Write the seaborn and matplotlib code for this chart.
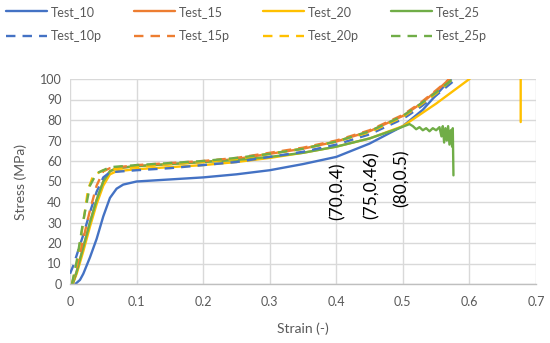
import matplotlib
matplotlib.use("Agg")
import matplotlib.pyplot as plt
import seaborn as sns
import pandas as pd

# ---------------- data ----------------
x_10 = [0.008, 0.015, 0.02, 0.03, 0.04, 0.05, 0.06, 0.07, 0.08, 0.1, 0.15, 0.2, 0.25, 0.3, 0.35, 0.4, 0.45, 0.5, 0.53, 0.555, 0.58]
y_10 = [0, 2, 5, 13, 22, 33, 42, 46.5, 48.5, 50, 51, 52, 53.5, 55.5, 58.5, 62, 68.5, 77, 85, 94, 103]

x_15 = [0.004, 0.01, 0.02, 0.03, 0.04, 0.05, 0.06, 0.07, 0.1, 0.15, 0.2, 0.25, 0.3, 0.35, 0.4, 0.45, 0.5, 0.525, 0.55, 0.57, 0.58]
y_15 = [0, 6, 18, 30, 41, 50, 55, 56.5, 57.5, 58.5, 59.5, 61, 63.5, 66, 69.5, 74.5, 82, 87.5, 94, 100, 104]

x_20 = [0.004, 0.01, 0.02, 0.03, 0.04, 0.05, 0.06, 0.07, 0.1, 0.15, 0.2, 0.25, 0.3, 0.35, 0.4, 0.45, 0.5, 0.55, 0.575, 0.6, 0.64, 0.677, 0.677]
y_20 = [0, 5, 16, 28, 39, 48, 53.5, 55, 56, 57, 58, 59.5, 61.5, 64, 67, 71, 77, 88, 94, 100, 115, 130, 79]

x_25 = [0.004, 0.01, 0.02, 0.03, 0.04, 0.05, 0.06, 0.07, 0.1, 0.15, 0.2, 0.25, 0.3, 0.35, 0.4, 0.45, 0.49, 0.51,
        0.515, 0.52, 0.525, 0.53, 0.535, 0.54, 0.545, 0.55, 0.555, 0.558, 0.56, 0.562, 0.564, 0.566, 0.568, 0.57,
        0.572, 0.574, 0.575, 0.576]
y_25 = [0, 6, 18, 30, 41, 50, 55, 56.5, 57.5, 58.5, 59.5, 60.5, 62, 64, 67, 71, 75.5, 78,
        77, 75.5, 76.5, 75, 76, 74.5, 76, 75, 76.5, 72, 77, 69, 76, 70, 77, 68,
        75, 67, 76, 53]

x_10p = [0.0, 0.005, 0.01, 0.02, 0.03, 0.04, 0.05, 0.06, 0.1, 0.15, 0.2, 0.25, 0.3, 0.35, 0.4, 0.45, 0.5, 0.525, 0.55, 0.58, 0.59]
y_10p = [5, 9, 14, 24, 35, 45, 52, 54.5, 55.5, 56.5, 58, 59.5, 62, 64.5, 68, 73, 80.5, 86, 92, 100, 103]

x_15p = [0.003, 0.01, 0.02, 0.03, 0.04, 0.05, 0.06, 0.1, 0.15, 0.2, 0.25, 0.3, 0.35, 0.4, 0.45, 0.5, 0.525, 0.55, 0.57, 0.58]
y_15p = [0, 8, 22, 36, 48, 55, 56.5, 58, 59, 60, 61.5, 64, 66.5, 70, 75, 82.5, 88, 94.5, 100, 104]

x_20p = [0.003, 0.01, 0.02, 0.027, 0.035, 0.05, 0.1, 0.15, 0.2, 0.25, 0.3, 0.35, 0.4, 0.45, 0.5, 0.525, 0.55, 0.575, 0.59]
y_20p = [0, 10, 30, 46, 53, 55.5, 57, 58.5, 59.5, 61, 63.5, 66, 69.5, 74, 81.5, 87, 93, 100, 104]

x_25p = [0.003, 0.01, 0.02, 0.03, 0.04, 0.06, 0.1, 0.15, 0.2, 0.25, 0.3, 0.35, 0.4, 0.45, 0.5, 0.525, 0.55, 0.575, 0.59]
y_25p = [0, 11, 31, 48, 54, 57, 58, 59, 60, 61.5, 63.5, 66, 69.5, 74.5, 82, 87.5, 93.5, 100, 104]

labels = ["Test_10", "Test_15", "Test_20", "Test_25", "Test_10p", "Test_15p", "Test_20p", "Test_25p"]
annot_text = ["(70,0.4)", "(75,0.46)", "(80,0.5)"]
annot_x = [0.402, 0.453, 0.498]
annot_y = [59.5, 64.5, 65.5]

x_ticks = [0, 0.1, 0.2, 0.3, 0.4, 0.5, 0.6, 0.7]
x_tick_labels = ["0", "0.1", "0.2", "0.3", "0.4", "0.5", "0.6", "0.7"]
y_ticks = [0, 10, 20, 30, 40, 50, 60, 70, 80, 90, 100]

# ---------------- style ----------------
sns.set_theme(style="white")
plt.rcParams["font.family"] = ["Lato", "DejaVu Sans"]

blue, orange, yellow, green = "#4472C4", "#ED7D31", "#FFC000", "#70AD47"
series = [
    (x_10, y_10, blue, False), (x_15, y_15, orange, False),
    (x_20, y_20, yellow, False), (x_25, y_25, green, False),
    (x_10p, y_10p, blue, True), (x_15p, y_15p, orange, True),
    (x_20p, y_20p, yellow, True), (x_25p, y_25p, green, True),
]

fig = plt.figure(figsize=(5.5, 3.43), dpi=100)
ax = fig.add_axes([70 / 550, 1 - 284 / 343, 466 / 550, 205 / 343])

handles = []
for (xs, ys, col, dashed), lab in zip(series, labels):
    df = pd.DataFrame({"strain": xs, "stress": ys})
    sns.lineplot(data=df, x="strain", y="stress", ax=ax, color=col, sort=False,
                 estimator=None, linewidth=1.7, label=lab, legend=False)
    ln = ax.lines[-1]
    if dashed:
        ln.set_dashes((4, 3))
    handles.append(ln)

ax.set_xlim(0, 0.7)
ax.set_ylim(0, 100)
ax.set_xticks(x_ticks)
ax.set_xticklabels(x_tick_labels)
ax.set_yticks(y_ticks)
ax.grid(True, color="#D9D9D9", linewidth=1.0)
ax.set_axisbelow(True)
for s in ["top", "right", "left"]:
    ax.spines[s].set_visible(False)
ax.spines["bottom"].set_color("#BFBFBF")
ax.spines["bottom"].set_linewidth(1.0)
ax.tick_params(axis="x", length=0, labelsize=9, labelcolor="#595959", pad=9)
ax.tick_params(axis="y", length=0, labelsize=9, labelcolor="#595959", pad=6)
ax.set_xlabel("Strain (-)", fontsize=10, color="#595959", labelpad=10)
ax.set_ylabel("Stress (MPa)", fontsize=10, color="#595959", labelpad=9)

for t, xa, ya in zip(annot_text, annot_x, annot_y):
    ax.text(xa, ya, t, rotation=90, ha="center", va="top", fontsize=12.5, color="black")

order = [0, 4, 1, 5, 2, 6, 3, 7]
leg = fig.legend([handles[i] for i in order], [labels[i] for i in order],
                 loc="upper left", bbox_to_anchor=(0.0, 1.0), ncol=4, frameon=False,
                 fontsize=9, handlelength=3.3, handletextpad=0.3, columnspacing=2.6,
                 labelspacing=1.0, borderaxespad=0.05)
for t in leg.get_texts():
    t.set_color("#595959")

fig.savefig("out.png", dpi=100)
